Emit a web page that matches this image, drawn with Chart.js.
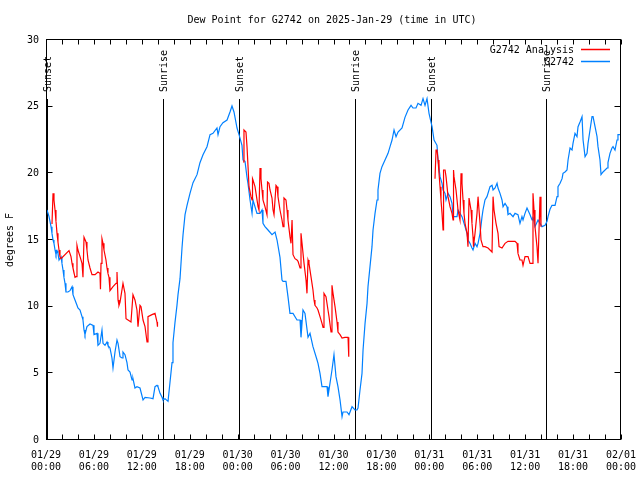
<!DOCTYPE html>
<html>
<head>
<meta charset="utf-8">
<script src="https://cdn.jsdelivr.net/npm/chart.js@4/dist/chart.umd.min.js"></script>
<style>
  html, body { margin: 0; padding: 0; background: #fff; }
  #wrap { width: 640px; height: 480px; }
</style>
</head>
<body>
<div id="wrap"><canvas id="grafico" width="640" height="480"></canvas></div>
<script>
// horas desde 01/29 00:00 UTC
const blueHours = [0.13,0.38,0.63,0.75,0.88,1.0,1.13,1.25,1.38,1.5,1.63,1.88,2.0,2.13,2.25,2.38,2.5,2.75,3.0,3.26,3.38,3.63,3.88,4.0,4.26,4.51,4.63,4.76,4.88,5.13,5.51,5.89,6.01,6.39,6.51,6.76,7.01,7.14,7.39,7.64,7.76,8.01,8.26,8.39,8.64,8.89,9.02,9.27,9.52,9.64,9.89,10.14,10.27,10.52,10.77,10.89,11.14,11.39,11.77,12.15,12.4,13.02,13.4,13.65,13.9,14.02,14.28,14.53,14.65,14.9,15.28,15.53,15.78,15.9,16.15,16.4,16.53,16.78,17.03,17.16,17.41,17.66,18.03,18.41,18.91,19.28,19.66,20.16,20.54,20.91,21.41,21.54,21.79,22.16,22.67,23.04,23.29,23.54,23.92,24.17,24.54,24.67,24.92,25.17,25.3,25.55,25.8,25.92,26.42,26.8,27.05,27.17,27.42,27.8,28.3,28.68,28.93,29.3,29.55,29.68,30.05,30.3,30.55,30.93,31.43,31.81,31.93,32.18,32.43,32.81,33.06,33.43,33.94,34.06,34.31,34.56,35.19,35.31,35.81,36.06,36.31,36.56,36.82,37.07,37.19,37.69,37.94,38.32,38.69,38.94,39.07,39.32,39.57,39.7,39.95,40.2,40.32,40.57,40.82,40.95,41.2,41.45,41.57,41.82,42.07,42.45,42.83,43.08,43.33,43.58,43.83,44.08,44.58,44.95,45.33,45.71,45.96,46.33,46.58,46.96,47.21,47.46,47.71,47.96,48.34,48.59,48.96,49.09,49.34,49.59,49.72,49.97,50.09,50.34,50.59,50.84,50.97,51.47,51.59,52.09,52.22,52.47,52.72,52.84,53.09,53.34,53.47,53.72,53.97,54.1,54.35,54.6,54.72,54.97,55.22,55.6,55.85,55.98,56.23,56.48,56.6,56.85,57.1,57.23,57.48,57.73,57.85,58.1,58.48,58.73,59.1,59.35,59.6,59.73,59.98,60.23,60.61,60.86,60.98,61.23,61.61,61.86,62.11,62.49,62.74,62.86,63.11,63.36,63.74,63.99,64.11,64.37,64.62,64.74,64.99,65.24,65.37,65.62,65.87,65.99,66.24,66.49,66.62,66.87,67.12,67.25,67.5,67.75,67.87,68.12,68.37,68.5,68.75,69.0,69.12,69.37,69.5,69.75,70.25,70.37,70.62,70.87,71.0,71.25,71.5,71.62,71.87];
const blueDew = [17.25,16.75,16.0,15.5,15.0,14.75,14.25,13.9,14.2,14.0,13.5,13.75,13.25,12.75,12.2,11.75,11.1,11.1,11.2,11.5,10.9,10.5,10.1,9.9,9.75,9.25,9.0,8.25,7.9,8.5,8.7,8.6,7.9,8.0,7.1,7.25,8.25,7.25,7.1,7.35,7.1,6.9,6.15,5.4,6.6,7.5,7.25,6.25,6.15,6.6,6.4,5.8,5.25,5.1,4.5,4.6,3.9,4.0,3.9,3.0,3.2,3.15,3.1,4.0,4.1,4.0,3.5,3.2,3.0,3.1,2.9,4.35,5.8,7.3,8.8,10.1,10.9,12.1,14.4,15.4,16.9,17.6,18.5,19.3,19.9,20.8,21.4,22.0,22.9,23.0,23.4,22.9,23.5,23.8,24.0,24.6,25.05,24.6,23.4,22.9,22.1,21.0,20.9,19.7,19.2,18.0,17.0,18.0,17.0,17.0,17.25,16.25,16.0,15.75,15.4,15.6,15.0,13.7,12.0,11.9,11.9,10.75,9.5,9.5,9.0,9.0,7.7,9.75,9.5,7.7,8.0,7.0,6.0,5.75,5.0,4.0,4.0,3.25,5.25,6.4,4.75,4.0,3.0,1.75,2.1,2.1,1.9,2.5,2.25,2.25,2.4,3.75,5.0,6.75,8.75,10.25,11.5,13.0,14.5,15.75,17.0,18.0,18.75,20.0,20.5,21.0,21.5,22.0,22.5,23.25,22.75,23.1,23.4,24.2,24.75,25.1,24.9,24.9,25.25,25.1,25.6,25.1,25.6,24.5,23.5,22.5,22.1,21.0,19.75,19.25,18.75,18.5,18.0,18.5,18.25,17.75,16.75,16.75,17.25,16.75,16.5,16.0,15.5,15.0,14.75,14.4,14.25,14.75,14.5,14.75,15.5,16.75,17.25,18.0,18.25,19.0,19.1,18.75,18.9,19.25,18.9,18.5,18.0,17.5,17.75,17.5,16.9,17.0,16.75,17.0,16.9,16.25,16.75,16.5,17.0,17.4,16.9,16.5,16.75,16.0,16.5,16.25,16.0,16.1,16.4,16.75,17.3,17.6,17.6,18.25,19.0,19.25,19.6,20.0,20.1,20.25,21.0,21.9,21.75,22.25,23.0,22.75,23.5,23.85,24.25,22.5,21.25,21.5,22.25,23.25,24.25,24.25,23.5,22.75,22.0,21.0,19.9,20.1,20.4,20.8,21.5,21.9,22.0,21.75,22.5,22.9,22.9];

// analisis (null = sin datos)
const redHours = [0.75,0.88,1.0,1.13,1.25,1.38,1.5,1.63,1.75,1.88,2.88,3.13,3.26,3.38,3.63,3.76,3.88,4.0,4.26,4.51,4.63,4.76,5.01,5.13,5.26,5.51,5.76,6.14,6.51,6.76,6.82,6.89,7.01,7.14,7.26,7.51,7.64,7.76,7.89,8.01,8.39,8.77,8.89,9.02,9.14,9.27,9.64,9.89,10.02,10.27,10.64,10.89,11.14,11.39,11.52,11.77,11.9,12.15,12.4,12.65,12.77,13.27,13.65,13.9,13.96,
  19,
  24.67,24.79,25.04,25.17,25.3,25.42,25.67,25.8,25.86,25.92,26.17,26.3,26.55,26.67,26.8,26.92,27.05,27.17,27.42,27.67,27.74,27.92,28.05,28.3,28.43,28.55,28.8,28.93,29.05,29.3,29.55,29.68,29.8,30.05,30.18,30.3,30.55,30.68,30.81,30.93,31.18,31.43,31.56,31.81,31.93,32.06,32.31,32.56,32.68,32.81,32.93,33.18,33.43,33.56,33.68,33.94,34.06,34.31,34.56,34.69,34.81,35.06,35.31,35.44,35.69,35.81,35.94,36.19,36.44,36.56,36.82,37.07,37.44,37.82,37.88,37.94,
  43,
  48.71,48.84,48.96,49.09,49.21,49.34,49.46,49.59,49.72,49.78,49.97,50.09,50.22,50.34,50.59,50.84,50.97,51.03,51.09,51.34,51.47,51.59,51.84,51.97,52.09,52.22,52.34,52.47,52.72,52.84,52.97,53.22,53.34,53.47,53.53,53.72,53.97,54.1,54.22,54.35,54.47,54.72,54.97,55.35,55.85,55.98,56.1,56.35,56.6,56.73,57.1,57.48,57.85,58.73,58.98,59.1,59.35,59.6,59.73,59.98,60.36,60.61,60.86,60.98,61.11,61.23,61.48,61.61,61.73,61.86,61.98];
const redDew = [16.2,18.5,18.0,17.25,16.4,15.5,14.85,14.25,13.75,13.6,14.2,13.75,13.25,12.9,12.2,12.25,14.6,14.25,13.75,13.25,12.2,15.2,14.85,14.25,13.5,12.9,12.4,12.4,12.6,12.5,11.3,13.25,15.1,14.75,14.25,13.5,12.9,12.5,12.2,11.2,11.5,11.75,12.6,10.5,10.1,10.35,11.75,11.0,9.1,9.0,8.85,10.9,10.5,9.75,8.5,10.1,10.0,9.0,8.5,7.35,9.25,9.4,9.5,8.85,8.5,
  null,
  20.85,23.25,23.1,22.0,20.5,19.0,18.25,18.0,19.6,19.5,19.0,18.5,17.5,17.25,20.4,19.6,18.75,18.0,17.5,16.9,19.35,19.25,18.75,18.15,17.25,16.9,19.1,19.0,18.25,17.25,16.5,16.0,18.15,18.0,17.25,16.5,15.25,14.75,16.5,13.9,13.6,13.5,13.4,12.9,15.5,14.75,13.25,12.0,11.0,13.5,13.25,12.25,11.25,10.5,10.1,9.9,9.75,9.25,8.75,8.45,11.0,10.75,9.75,9.25,8.1,11.6,11.0,10.0,8.85,8.1,7.9,7.65,7.7,7.7,7.0,6.25,
  null,
  19.6,21.75,21.75,21.0,20.0,19.0,18.0,17.0,15.75,20.25,20.25,19.75,19.0,18.25,17.5,17.0,16.5,20.25,19.75,18.75,18.0,17.25,16.5,20.0,19.25,18.0,17.0,16.25,15.5,14.5,18.15,17.25,16.25,15.25,14.5,15.5,17.0,18.25,17.25,16.25,15.0,14.5,14.5,14.4,14.1,18.25,17.25,16.25,15.5,14.5,14.4,14.75,14.9,14.9,14.75,14.0,13.5,13.5,13.1,13.75,13.75,13.25,13.25,18.5,17.25,16.0,14.5,13.25,13.25,18.25,16.0];

const sunHours = [0.13, 14.65, 24.15, 38.65, 48.17, 62.62];
const sunLabels = ['Sunset', 'Sunrise', 'Sunset', 'Sunrise', 'Sunset', 'Sunrise'];
const dayLabels = ['01/29', '01/30', '01/31', '02/01'];

const fuente = '"DejaVu Sans Mono", "Liberation Mono", monospace';

function puntos(horas, valores) {
    return horas.map((h, i) => ({ x: h, y: valores[i] }));
}

function etiquetaHora(v) {
    if (v % 6 !== 0) return '';
    const hh = String(v % 24).padStart(2, '0');
    return [dayLabels[Math.floor(v / 24)], hh + ':00'];
}

// marco, ticks hacia dentro, lineas de sol, titulo y leyenda
const decoracion = {
    id: 'decoracion',
    beforeDatasetsDraw(chart) {
        const { ctx, chartArea: a, scales: { x } } = chart;
        ctx.save();
        ctx.strokeStyle = '#000';
        ctx.lineWidth = 1;
        ctx.fillStyle = '#000';
        ctx.font = '10px ' + fuente;
        sunHours.forEach((h, i) => {
            const px = Math.round(x.getPixelForValue(h)) + 0.5;
            ctx.beginPath();
            ctx.moveTo(px, 99);
            ctx.lineTo(px, a.bottom);
            ctx.stroke();
            ctx.save();
            ctx.translate(px + 1, 92);
            ctx.rotate(-Math.PI / 2);
            ctx.textAlign = 'left';
            ctx.textBaseline = 'middle';
            ctx.fillText(sunLabels[i], 0, 0);
            ctx.restore();
        });
        ctx.restore();
    },
    afterDraw(chart) {
        const { ctx, chartArea: a, scales: { x, y } } = chart;
        ctx.save();
        ctx.strokeStyle = '#000';
        ctx.lineWidth = 1;
        const L = Math.round(a.left) + 0.5, R = Math.round(a.right) - 0.5;
        const T = Math.round(a.top) - 0.5, B = Math.round(a.bottom) - 0.5;
        ctx.strokeRect(L, T, R - L, B - T);
        ctx.beginPath();
        x.ticks.forEach(t => {
            const px = Math.round(x.getPixelForValue(t.value)) + 0.5;
            ctx.moveTo(px, B); ctx.lineTo(px, B - 5);
            ctx.moveTo(px, T); ctx.lineTo(px, T + 5);
        });
        y.ticks.forEach(t => {
            const py = Math.round(y.getPixelForValue(t.value)) - 0.5;
            ctx.moveTo(L, py); ctx.lineTo(L + 6, py);
            ctx.moveTo(R, py); ctx.lineTo(R - 6, py);
        });
        ctx.stroke();

        ctx.fillStyle = '#000';
        ctx.font = '10px ' + fuente;
        ctx.textAlign = 'center';
        ctx.textBaseline = 'middle';
        ctx.fillText('Dew Point for G2742 on 2025-Jan-29 (time in UTC)', 332, 20);

        ctx.textAlign = 'right';
        chart.data.datasets.forEach((ds, i) => {
            const ly = 50 + i * 12;
            ctx.fillStyle = '#000';
            ctx.fillText(ds.label, 574, ly);
            ctx.strokeStyle = ds.borderColor;
            ctx.lineWidth = 1.5;
            ctx.beginPath();
            ctx.moveTo(581, ly - 0.5);
            ctx.lineTo(610, ly - 0.5);
            ctx.stroke();
        });
        ctx.restore();
    }
};

const ctx = document.getElementById('grafico').getContext('2d');
new Chart(ctx, {
    type: 'line',
    data: {
        datasets: [
            {
                label: 'G2742 Analysis',
                data: puntos(redHours, redDew),
                borderColor: '#ff0000',
                borderWidth: 1.2,
                pointRadius: 0,
                spanGaps: false,
                tension: 0
            },
            {
                label: 'G2742',
                data: puntos(blueHours, blueDew),
                borderColor: '#0080ff',
                borderWidth: 1.2,
                pointRadius: 0,
                tension: 0
            }
        ]
    },
    options: {
        responsive: false,
        animation: false,
        devicePixelRatio: 1,
        layout: { padding: { top: 40, right: 19, left: 0, bottom: 0 } },
        plugins: {
            legend: { display: false },
            tooltip: { enabled: false },
            title: { display: false }
        },
        scales: {
            x: {
                type: 'linear',
                min: 0,
                max: 72,
                grid: { display: false, drawTicks: false },
                border: { display: false },
                ticks: {
                    stepSize: 2,
                    autoSkip: false,
                    maxRotation: 0,
                    padding: 9,
                    color: '#000',
                    font: { family: fuente, size: 10 },
                    callback: etiquetaHora
                },
                afterFit(scale) {
                    scale.height = 40;
                    scale.paddingLeft = 0;
                    scale.paddingRight = 0;
                }
            },
            y: {
                min: 0,
                max: 30,
                grid: { display: false, drawTicks: false },
                border: { display: false },
                ticks: {
                    stepSize: 5,
                    padding: 7,
                    color: '#000',
                    font: { family: fuente, size: 10 }
                },
                title: {
                    display: true,
                    text: 'degrees F',
                    color: '#000',
                    font: { family: fuente, size: 10 },
                    padding: { top: 4, bottom: 0 }
                },
                afterFit(scale) { scale.width = 46; }
            }
        }
    },
    plugins: [decoracion]
});
</script>
</body>
</html>
